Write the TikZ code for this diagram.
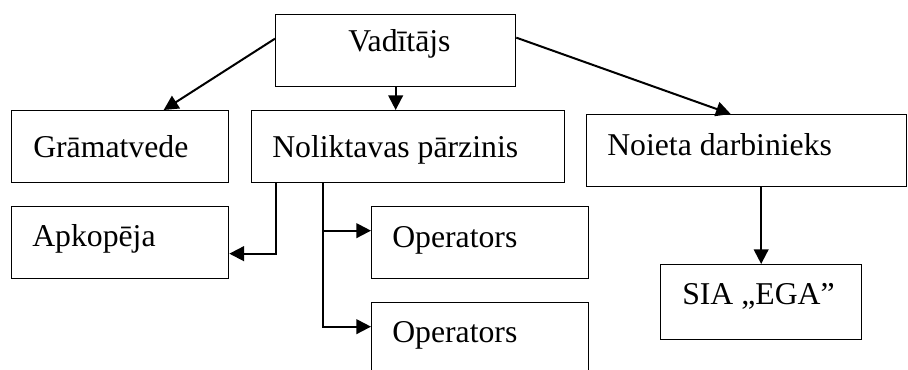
\documentclass[tikz,border=0pt]{standalone}
\usepackage{fontspec}
\setmainfont{Liberation Serif}
\usetikzlibrary{arrows.meta}

\begin{document}
\begin{tikzpicture}[
  x=0.75pt, y=-0.75pt,
  box/.style={rectangle, draw=black, line width=1pt, anchor=north west, inner sep=0pt},
  txt/.style={anchor=base west, inner sep=0pt, font=\fontsize{23.8}{28}\selectfont},
  arr/.style={-{Triangle[length=11pt, width=11pt]}, line width=1.5pt}
]
\clip (0,0) rectangle (908,370);

% Boxes
\node[box, minimum width=180pt,    minimum height=54pt]    (vad)  at (275,14)  {};
\node[box, minimum width=162.75pt, minimum height=54pt]    (gram) at (11,110)  {};
\node[box, minimum width=234.75pt, minimum height=54pt]    (nol)  at (251,110) {};
\node[box, minimum width=240pt,    minimum height=54pt]    (noi)  at (586,114) {};
\node[box, minimum width=162.75pt, minimum height=54pt]    (apk)  at (11,206)  {};
\node[box, minimum width=162.75pt, minimum height=54pt]    (op1)  at (371,206) {};
\node[box, minimum width=162.75pt, minimum height=54pt]    (op2)  at (371,302) {};
\node[box, minimum width=150.75pt, minimum height=56.25pt] (sia)  at (660,264) {};

% Texts
\node[txt] (vadt)  at (348,52)  {Vadītājs};
\node[txt] (gramt) at (33,158)  {Grāmatvede};
\node[txt] (nolt)  at (272,158) {Noliktavas pārzinis};
\node[txt] (noit)  at (607,156) {Noieta darbinieks};
\node[txt] (apkt)  at (32,247)  {Apkopēja};
\node[txt] (op1t)  at (392,248) {Operators};
\node[txt] (op2t)  at (392,343) {Operators};
\node[txt] (siat)  at (682,305) {SIA „EGA”};

% Arrows
\draw[arr] ([shift={(0,-12)}]vad.west) -- ([shift={(43.5,0)}]gram.north);
\draw[arr] (vad.south) -- (vad.south |- nol.north);
\draw[arr] ([shift={(0,-13)}]vad.east) -- ([shift={(-16,0)}]noi.north);
\draw[arr] (sia.north |- noi.south) -- (sia.north);
\draw[arr] ([shift={(25,0)}]nol.south west) |- ([shift={(0,11)}]apk.east);
\foreach \t in {op1, op2}
  \draw[arr] ([shift={(72,0)}]nol.south west) |- ([shift={(0,-12)}]\t.west);

\end{tikzpicture}
\end{document}
